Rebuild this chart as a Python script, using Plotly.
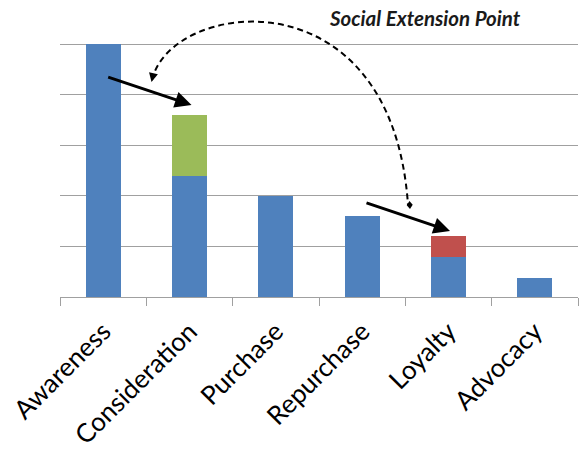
import math
import plotly.graph_objects as go

# Funnel stages and the value reached at each stage
stages = ["Awareness", "Consideration", "Purchase", "Repurchase", "Loyalty", "Advocacy"]
base_values = [5.0, 2.4, 2.0, 1.6, 0.8, 0.38]
social_consideration = [0, 1.2, 0, 0, 0, 0]
social_loyalty = [0, 0, 0, 0, 0.4, 0]
callout_text = "Social Extension Point"

W, H = 582, 454
M_L, M_R, M_T, M_B = 60, 4, 43, 157
PW, PH = W - M_L - M_R, H - M_T - M_B
Y_MAX = 5.02
GRID = "#A0A0A0"


def paper(px, py):
    """Convert a page pixel position to paper coordinates."""
    return (px - M_L) / PW, (H - M_B - py) / PH


fig = go.Figure()
fig.add_trace(go.Bar(x=stages, y=base_values, name="Base",
                     marker=dict(color="#4F81BD", line=dict(width=0))))
fig.add_trace(go.Bar(x=stages, y=social_consideration, name="Social consideration",
                     marker=dict(color="#9BBB59", line=dict(width=0))))
fig.add_trace(go.Bar(x=stages, y=social_loyalty, name="Social loyalty",
                     marker=dict(color="#C0504D", line=dict(width=0))))

# Solid arrows showing the drop between stages
annotations = []
for (tx, ty), (hx, hy) in [((106.7, 76.7), (191.5, 105.0)), ((365.0, 202.3), (450.0, 231.0))]:
    x, y = paper(hx, hy)
    annotations.append(dict(
        x=x, y=y, xref="paper", yref="paper", text="", showarrow=True,
        ax=tx - hx, ay=ty - hy, arrowhead=2, arrowsize=1.1, arrowwidth=3,
        arrowcolor="black", standoff=0,
    ))

tx, ty = paper(425, 18)
annotations.append(dict(
    x=tx, y=ty, xref="paper", yref="paper", showarrow=False,
    text="<b><i>" + callout_text + "</i></b>",
    font=dict(family="Lato", size=20.5, color="#1a1a1a"),
    xanchor="center", yanchor="middle",
))

# Dashed curved connector between the two extension points
p0, p1, p2, p3 = (152, 80), (170, 0), (392, -30), (408, 205)
pts = [paper(*p) for p in (p0, p1, p2, p3)]
path = "M {},{} C {},{} {},{} {},{}".format(*[c for p in pts for c in p])
shapes = [dict(type="path", path=path, xref="paper", yref="paper",
               line=dict(color="black", width=2, dash="6px,4px"))]


def head_path(tip, direction, length, width, diamond=False):
    dx, dy = direction
    n = math.hypot(dx, dy)
    dx, dy = dx / n, dy / n
    nx, ny = -dy, dx
    bx, by = tip[0] - dx * length, tip[1] - dy * length
    if diamond:
        cx, cy = tip[0] - dx * length / 2, tip[1] - dy * length / 2
        verts = [tip, (cx + nx * width / 2, cy + ny * width / 2),
                 (bx, by), (cx - nx * width / 2, cy - ny * width / 2)]
    else:
        verts = [tip, (bx + nx * width / 2, by + ny * width / 2),
                 (bx - nx * width / 2, by - ny * width / 2)]
    vp = [paper(*v) for v in verts]
    return "M " + " L ".join(f"{x},{y}" for x, y in vp) + " Z"


shapes.append(dict(type="path", xref="paper", yref="paper",
                   path=head_path((151.5, 82), (p0[0] - p1[0], p0[1] - p1[1]), 9, 9),
                   fillcolor="black", line=dict(width=0)))
shapes.append(dict(type="path", xref="paper", yref="paper",
                   path=head_path((410, 209), (p3[0] - p2[0], p3[1] - p2[1]), 8, 6, diamond=True),
                   fillcolor="black", line=dict(width=0)))

fig.update_layout(
    width=W, height=H,
    margin=dict(l=M_L, r=M_R, t=M_T, b=M_B, pad=0),
    barmode="stack", bargap=0.595, showlegend=False,
    plot_bgcolor="white", paper_bgcolor="white",
    annotations=annotations, shapes=shapes,
    font=dict(family="Lato", color="black"),
)
fig.update_xaxes(
    type="category", tickson="boundaries", ticks="outside", ticklen=8,
    tickcolor=GRID, tickwidth=1, showline=True, linecolor=GRID, linewidth=1,
    showgrid=False, tickangle=-45, tickfont=dict(family="Lato", size=26, color="black"),
    ticklabelstandoff=8, fixedrange=True,
)
fig.update_yaxes(
    range=[0, Y_MAX], dtick=1, showgrid=True, gridcolor=GRID, gridwidth=1,
    showticklabels=False, zeroline=False, showline=False, fixedrange=True,
)

fig.write_html("out.html", config={"displayModeBar": False})
